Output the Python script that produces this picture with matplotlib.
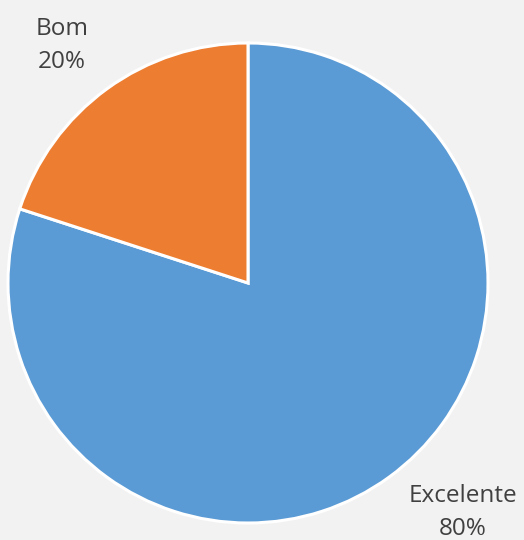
import matplotlib
matplotlib.use("Agg")
import matplotlib.pyplot as plt

categories = ["Excelente", "Bom"]
values = [80, 20]
colors = ["#5B9BD5", "#ED7D31"]
pct_labels = ["80%", "20%"]

bg = "#F2F2F2"
fig = plt.figure(figsize=(5.24, 5.40), dpi=100, facecolor=bg)
ax = fig.add_axes([8/524, (540-283-240)/540, 480/524, 480/540])
ax.set_facecolor(bg)
ax.pie(values, colors=colors, startangle=90, counterclock=False, radius=1.0,
       wedgeprops=dict(edgecolor="white", linewidth=2.2))
ax.set_xlim(-1.0, 1.0)
ax.set_ylim(-1.0, 1.0)
ax.set_aspect("equal")
ax.axis("off")

label_pos = {"Excelente": (0.896, -0.955), "Bom": (-0.775, 0.99)}
for cat, pct in zip(categories, pct_labels):
    x, y = label_pos[cat]
    ax.text(x, y, f"{cat}\n{pct}", ha="center", va="center", fontsize=17.5,
            color="#404040", family=["Open Sans", "DejaVu Sans"], linespacing=1.5,
            clip_on=False)

fig.savefig("out.png", dpi=100, facecolor=bg)
